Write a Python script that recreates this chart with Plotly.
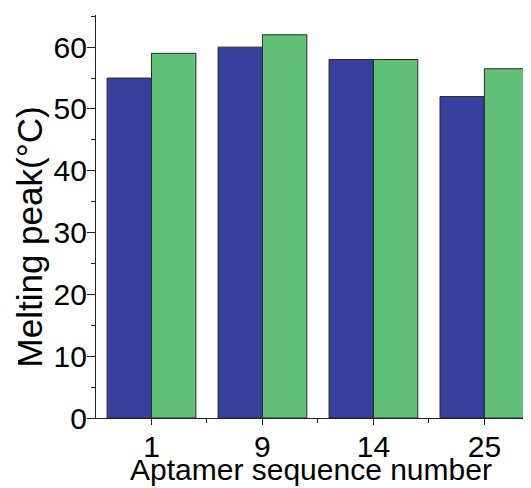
import plotly.graph_objects as go

categories = ["1", "9", "14", "25"]
series_a = [55, 60, 58, 52]
series_b = [59, 62, 58, 56.5]

FONT = "Liberation Sans, Arial, sans-serif"
xpos = list(range(len(categories)))
minor_pos = [i + 0.5 for i in range(len(categories) - 1)]

fig = go.Figure()
fig.add_trace(go.Bar(x=xpos, y=series_a, marker=dict(color="#37409A", line=dict(color="#2a2a2a", width=1)), showlegend=False))
fig.add_trace(go.Bar(x=xpos, y=series_b, marker=dict(color="#63C078", line=dict(color="#2a2a2a", width=1)), showlegend=False))

fig.update_layout(
    width=523, height=480,
    margin=dict(l=88, r=0, t=7, b=70, autoexpand=False),
    barmode="group", bargap=0.2, bargroupgap=0,
    plot_bgcolor="white", paper_bgcolor="white",
    font=dict(family=FONT, size=30, color="black"),
    xaxis=dict(
        range=[-0.5, 3.42], tickmode="array", tickvals=xpos, ticktext=categories,
        showline=True, linecolor="#222", linewidth=1.3, ticks="outside", ticklen=6, tickwidth=1.3, tickcolor="#222",
        showgrid=False, zeroline=False, automargin=False, ticklabelstandoff=-4,
        minor=dict(tickmode="array", tickvals=minor_pos, ticks="outside", ticklen=4, tickwidth=1.3, tickcolor="#222", showgrid=False),
        tickfont=dict(size=30),
    ),
    yaxis=dict(
        range=[0, 65.2], tickmode="linear", tick0=0, dtick=10,
        showline=True, linecolor="#222", linewidth=1.3, ticks="outside", ticklen=8, tickwidth=1.3, tickcolor="#222",
        showgrid=False, zeroline=False, automargin=False, ticklabelstandoff=-6,
        minor=dict(dtick=5, tick0=0, ticks="outside", ticklen=4, tickwidth=1.3, tickcolor="#222", showgrid=False),
        tickfont=dict(size=30),
    ),
    annotations=[
        dict(
            text="Melting peak(°C)", textangle=-90, xref="paper", yref="paper",
            x=-0.154, y=0.448, xanchor="center", yanchor="middle", showarrow=False,
            font=dict(size=35, family=FONT, color="black"),
        ),
        dict(
            text="Aptamer sequence number", xref="paper", yref="paper",
            x=0.494, y=-0.129, xanchor="center", yanchor="middle", showarrow=False,
            font=dict(size=30, family=FONT, color="black"),
        ),
    ],
)

fig.write_html("out.html")
